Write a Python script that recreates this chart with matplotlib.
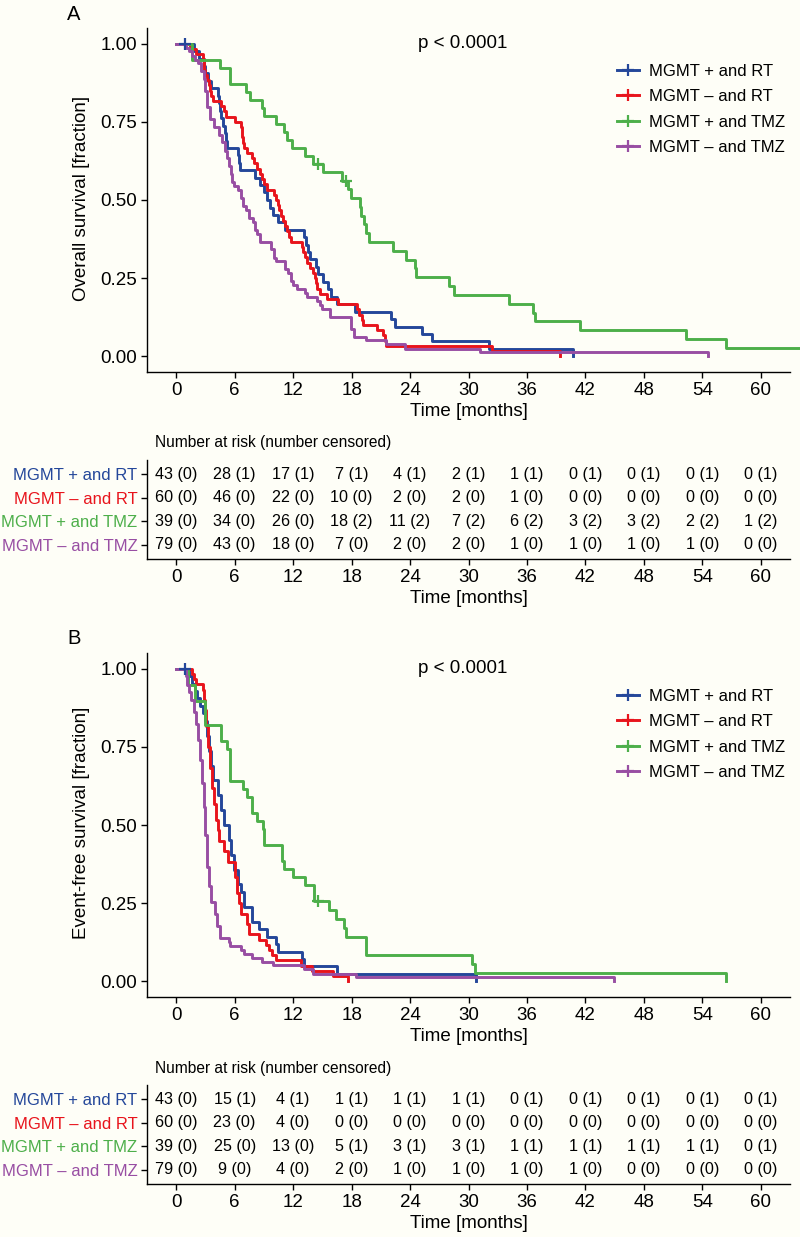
import numpy as np
import matplotlib.pyplot as plt

plt.rcParams['font.family'] = ['Liberation Sans', 'DejaVu Sans']
plt.rcParams['font.size'] = 12

bg = '#fefef7'
groups = ['MGMT + and RT', 'MGMT \u2013 and RT', 'MGMT + and TMZ', 'MGMT \u2013 and TMZ']
colors = ['#24479a', '#e8141c', '#4daf4a', '#984ea3']
time_ticks = [0, 6, 12, 18, 24, 30, 36, 42, 48, 54, 60]

# ---- A: overall survival (time in months, survival fraction) ----
os_rt_pos_t = [0, 1.8, 2.3, 2.8, 3.0, 3.3, 3.6, 4.3, 4.4, 4.5, 4.6, 4.8, 5.0, 5.1, 5.2, 6.3, 6.4, 6.5,
               8.1, 8.6, 9.0, 9.3, 9.6, 9.9, 10.4, 11.2, 13.1, 13.3, 13.5, 13.75, 14.3, 14.6, 15.1, 15.6,
               15.9, 16.5, 18.4, 22.0, 22.5, 25.2, 26.3, 32.1, 40.7]
os_rt_pos_s = [1.0, 0.976, 0.952, 0.929, 0.905, 0.881, 0.857, 0.833, 0.810, 0.786, 0.762, 0.738, 0.714,
               0.690, 0.667, 0.643, 0.619, 0.595, 0.571, 0.548, 0.524, 0.500, 0.476, 0.452, 0.429, 0.405,
               0.381, 0.357, 0.333, 0.310, 0.286, 0.262, 0.238, 0.214, 0.190, 0.167, 0.143, 0.119, 0.095,
               0.071, 0.048, 0.024, 0.0]

os_rt_neg_t = [0, 1.4, 2.0, 2.7, 2.8, 2.9, 3.0, 3.2, 3.4, 3.5, 3.6, 3.8, 4.6, 4.9, 5.1,
               6.0, 6.6, 6.7, 6.8, 6.9, 7.0, 7.3, 7.8, 8.0, 8.3, 8.6, 8.8, 9.0, 9.3, 10.0, 10.2, 10.4,
               10.6, 10.8, 11.0, 11.2, 11.4, 11.6, 11.8, 12.9, 13.0, 13.2, 13.4, 13.7, 14.0, 14.2, 14.3,
               14.4, 14.8, 15.5, 16.6, 18.6, 18.8, 19.1, 19.2, 20.6, 21.2, 21.4, 21.5, 32.4, 39.4]
os_rt_neg_s = [1.0, 0.983, 0.967, 0.950, 0.933, 0.917, 0.900, 0.883, 0.867, 0.850, 0.833, 0.817, 0.800,
               0.783, 0.767, 0.750, 0.733, 0.717, 0.700, 0.683, 0.667, 0.650, 0.633, 0.617, 0.600, 0.583,
               0.567, 0.550, 0.533, 0.517, 0.500, 0.483, 0.467, 0.450, 0.433, 0.417, 0.400, 0.383, 0.367,
               0.350, 0.333, 0.317, 0.300, 0.283, 0.267, 0.250, 0.233, 0.217, 0.200, 0.183, 0.167, 0.150,
               0.133, 0.117, 0.100, 0.083, 0.067, 0.050, 0.033, 0.017, 0.0]

os_tmz_pos_t = [0, 1.6, 4.5, 5.5, 7.2, 7.6, 8.8, 9.0, 10.2, 11.1, 11.4, 11.9, 13.2, 14.0, 15.1, 17.0,
                17.6, 17.9, 18.9, 19.0, 19.3, 19.5, 19.75, 22.3, 23.6, 24.5, 24.6, 28.0, 28.5, 34.2,
                36.6, 36.8, 41.4, 52.3, 56.4, 63.9]
os_tmz_pos_s = [1.0, 0.949, 0.923, 0.872, 0.846, 0.821, 0.795, 0.769, 0.744, 0.718, 0.692, 0.667, 0.641,
                0.615, 0.589, 0.562, 0.534, 0.506, 0.478, 0.450, 0.422, 0.394, 0.365, 0.337, 0.309, 0.281,
                0.253, 0.225, 0.197, 0.169, 0.140, 0.112, 0.084, 0.056, 0.028, 0.028]

os_tmz_neg_t = [0, 1.0, 1.3, 1.6, 1.9, 2.2, 2.5, 2.8, 3.0, 3.2, 3.5, 3.9, 4.4, 4.7, 5.0, 5.2, 5.4, 5.6,
                5.75, 5.9, 6.3, 6.6, 6.9, 7.2, 7.5, 7.9, 8.1, 8.3, 8.6, 9.7, 10.0, 10.2, 11.2, 11.5, 11.8,
                11.95, 12.4, 13.2, 13.4, 14.5, 14.8, 15.0, 15.8, 17.9, 18.2, 19.5, 21.5, 23.5, 31.2, 54.6]
os_tmz_neg_s = [1.0, 0.987, 0.975, 0.962, 0.949, 0.937, 0.911, 0.886, 0.848, 0.797, 0.759, 0.734, 0.709,
                0.684, 0.658, 0.633, 0.608, 0.582, 0.557, 0.544, 0.532, 0.506, 0.481, 0.468, 0.443, 0.430,
                0.405, 0.392, 0.367, 0.342, 0.316, 0.304, 0.278, 0.266, 0.241, 0.228, 0.215, 0.203, 0.190,
                0.177, 0.165, 0.152, 0.127, 0.089, 0.063, 0.051, 0.038, 0.025, 0.013, 0.0]

os_cens_t = [[0.9], [], [14.6, 17.4], []]
os_cens_s = [[1.0], [], [0.615, 0.562], []]

os_risk = [[43, 28, 17, 7, 4, 2, 1, 0, 0, 0, 0],
           [60, 46, 22, 10, 2, 2, 1, 0, 0, 0, 0],
           [39, 34, 26, 18, 11, 7, 6, 3, 3, 2, 1],
           [79, 43, 18, 7, 2, 2, 1, 1, 1, 1, 0]]
os_censored = [[0, 1, 1, 1, 1, 1, 1, 1, 1, 1, 1],
               [0, 0, 0, 0, 0, 0, 0, 0, 0, 0, 0],
               [0, 0, 0, 2, 2, 2, 2, 2, 2, 2, 2],
               [0, 0, 0, 0, 0, 0, 0, 0, 0, 0, 0]]

# ---- B: event-free survival ----
efs_rt_pos_t = [0, 1.3, 1.6, 1.9, 2.1, 2.4, 2.7, 3.0, 3.2, 3.4, 3.6, 3.8, 4.3, 4.6, 4.9, 5.4, 5.6, 5.9,
                6.3, 6.6, 7.0, 7.8, 8.5, 9.3, 10.2, 10.4, 12.9, 13.1, 16.5, 30.8]
efs_rt_pos_s = [1.0, 0.976, 0.952, 0.929, 0.905, 0.881, 0.857, 0.833, 0.786, 0.738, 0.690, 0.643, 0.595,
                0.548, 0.500, 0.452, 0.405, 0.357, 0.310, 0.286, 0.238, 0.190, 0.167, 0.143, 0.119, 0.095,
                0.071, 0.048, 0.024, 0.0]

efs_rt_neg_t = [0, 1.6, 1.8, 2.0, 2.7, 2.8, 2.9, 3.0, 3.1, 3.3, 3.5, 3.7, 3.9, 4.1, 4.3, 4.4, 4.9, 5.3,
                6.0, 6.2, 6.4, 6.6, 7.3, 7.5, 8.5, 9.2, 9.5, 9.8, 10.2, 12.8, 13.9, 16.1, 17.6]
efs_rt_neg_s = [1.0, 0.983, 0.967, 0.950, 0.933, 0.917, 0.900, 0.867, 0.817, 0.750, 0.683, 0.617, 0.567,
                0.517, 0.483, 0.450, 0.417, 0.383, 0.333, 0.283, 0.250, 0.217, 0.183, 0.150, 0.133, 0.117,
                0.100, 0.083, 0.067, 0.050, 0.033, 0.017, 0.0]

efs_tmz_pos_t = [0, 1.2, 1.9, 3.0, 4.6, 5.2, 5.5, 6.9, 7.3, 7.8, 8.3, 8.9, 9.0, 10.9, 11.1, 11.95, 13.2,
                 14.1, 15.7, 16.4, 17.2, 17.4, 19.5, 30.4, 30.7, 56.4]
efs_tmz_pos_s = [1.0, 0.949, 0.897, 0.821, 0.769, 0.744, 0.641, 0.615, 0.590, 0.538, 0.513, 0.487, 0.436,
                 0.385, 0.359, 0.333, 0.308, 0.256, 0.228, 0.199, 0.171, 0.142, 0.085, 0.057, 0.028, 0.0]

efs_tmz_neg_t = [0, 1.0, 1.1, 1.3, 1.5, 1.8, 2.0, 2.2, 2.4, 2.6, 2.8, 3.0, 3.2, 3.4, 3.6, 4.0, 4.2, 4.5,
                 5.4, 5.5, 6.6, 7.0, 7.8, 8.8, 9.9, 13.1, 14.0, 18.5, 44.9]
efs_tmz_neg_s = [1.0, 0.975, 0.949, 0.924, 0.899, 0.861, 0.823, 0.772, 0.709, 0.633, 0.557, 0.468, 0.367,
                 0.304, 0.253, 0.215, 0.177, 0.139, 0.127, 0.114, 0.101, 0.089, 0.076, 0.063, 0.051, 0.038,
                 0.025, 0.013, 0.0]

efs_cens_t = [[0.9], [], [14.6], []]
efs_cens_s = [[1.0], [], [0.256], []]

efs_risk = [[43, 15, 4, 1, 1, 1, 0, 0, 0, 0, 0],
            [60, 23, 4, 0, 0, 0, 0, 0, 0, 0, 0],
            [39, 25, 13, 5, 3, 3, 1, 1, 1, 1, 0],
            [79, 9, 4, 2, 1, 1, 1, 1, 0, 0, 0]]
efs_censored = [[0, 1, 1, 1, 1, 1, 1, 1, 1, 1, 1],
                [0, 0, 0, 0, 0, 0, 0, 0, 0, 0, 0],
                [0, 0, 0, 1, 1, 1, 1, 1, 1, 1, 1],
                [0, 0, 0, 0, 0, 0, 0, 0, 0, 0, 0]]

W, H = 800, 1237
fig = plt.figure(figsize=(8, 12.37), dpi=100, facecolor=bg)


def style_axis(ax):
    ax.set_facecolor('none')
    for side in ['top', 'right']:
        ax.spines[side].set_visible(False)
    for side in ['left', 'bottom']:
        ax.spines[side].set_linewidth(1.0)
    ax.tick_params(direction='out', length=4, width=1.0, labelsize=13.5, pad=3)
    ax.set_xlim(-3, 63)
    ax.set_xticks(time_ticks)


def draw_panel(top, letter, ylab, curves, cens_t, cens_s, risk, censored):
    # top = pixel row of the top of the survival plot
    ax = fig.add_axes([147 / W, 1 - (top + 344) / H, 643 / W, 344 / H])
    style_axis(ax)
    for (t, s), c, g in zip(curves, colors, groups):
        ax.step(t, s, where='post', color=c, lw=2.1, clip_on=False, label=g)
    for ct, cs, c in zip(cens_t, cens_s, colors):
        ax.plot(ct, cs, ls='none', marker='+', ms=9, mew=1.6, color=c)
    ax.set_ylim(-0.05, 1.05)
    ax.set_yticks([0, 0.25, 0.5, 0.75, 1.0])
    ax.set_yticklabels(['0.00', '0.25', '0.50', '0.75', '1.00'])
    ax.set_xlabel('Time [months]', fontsize=13.5, labelpad=3)
    ax.text(24.8, 1.0, 'p < 0.0001', fontsize=13.5, ha='left', va='center')
    handles = [plt.Line2D([], [], color=c, lw=2.1, marker='+', ms=9, mew=1.6) for c in colors]
    ax.legend(handles, groups, loc='upper left', frameon=False, fontsize=12,
              bbox_to_anchor=(617 / W, 1 - (top + 36) / H), bbox_transform=fig.transFigure,
              borderpad=0, borderaxespad=0, handlelength=1.3, handletextpad=0.6, labelspacing=0.62)
    fig.text(81 / W, 1 - (top + 170) / H, ylab, rotation=90, ha='center', va='center', fontsize=13.5)
    fig.text(74 / W, 1 - (top - 14) / H, letter, ha='center', va='center', fontsize=14.5)

    # number-at-risk table
    fig.text(155 / W, 1 - (top + 415) / H, 'Number at risk (number censored)', ha='left',
             va='center', fontsize=11.2)
    tab = fig.add_axes([147 / W, 1 - (top + 531) / H, 643 / W, 99 / H])
    style_axis(tab)
    tab.set_ylim(0.4, 4.6)
    rows = [4, 3, 2, 1]
    for r, n_risk, n_cens in zip(rows, risk, censored):
        for x, n, k in zip(time_ticks, n_risk, n_cens):
            tab.text(x, r, f'{n} ({k})', ha='center', va='center', fontsize=11.6)
    tab.set_yticks(rows)
    tab.set_yticklabels(groups, fontsize=12)
    for lab, c in zip(tab.get_yticklabels(), colors):
        lab.set_color(c)
    tab.set_xlabel('Time [months]', fontsize=13.5, labelpad=3)


draw_panel(28, 'A', 'Overall survival [fraction]',
           [(os_rt_pos_t, os_rt_pos_s), (os_rt_neg_t, os_rt_neg_s),
            (os_tmz_pos_t, os_tmz_pos_s), (os_tmz_neg_t, os_tmz_neg_s)],
           os_cens_t, os_cens_s, os_risk, os_censored)

draw_panel(653, 'B', 'Event-free survival [fraction]',
           [(efs_rt_pos_t, efs_rt_pos_s), (efs_rt_neg_t, efs_rt_neg_s),
            (efs_tmz_pos_t, efs_tmz_pos_s), (efs_tmz_neg_t, efs_tmz_neg_s)],
           efs_cens_t, efs_cens_s, efs_risk, efs_censored)

fig.savefig('out.png', dpi=100, facecolor=bg)
